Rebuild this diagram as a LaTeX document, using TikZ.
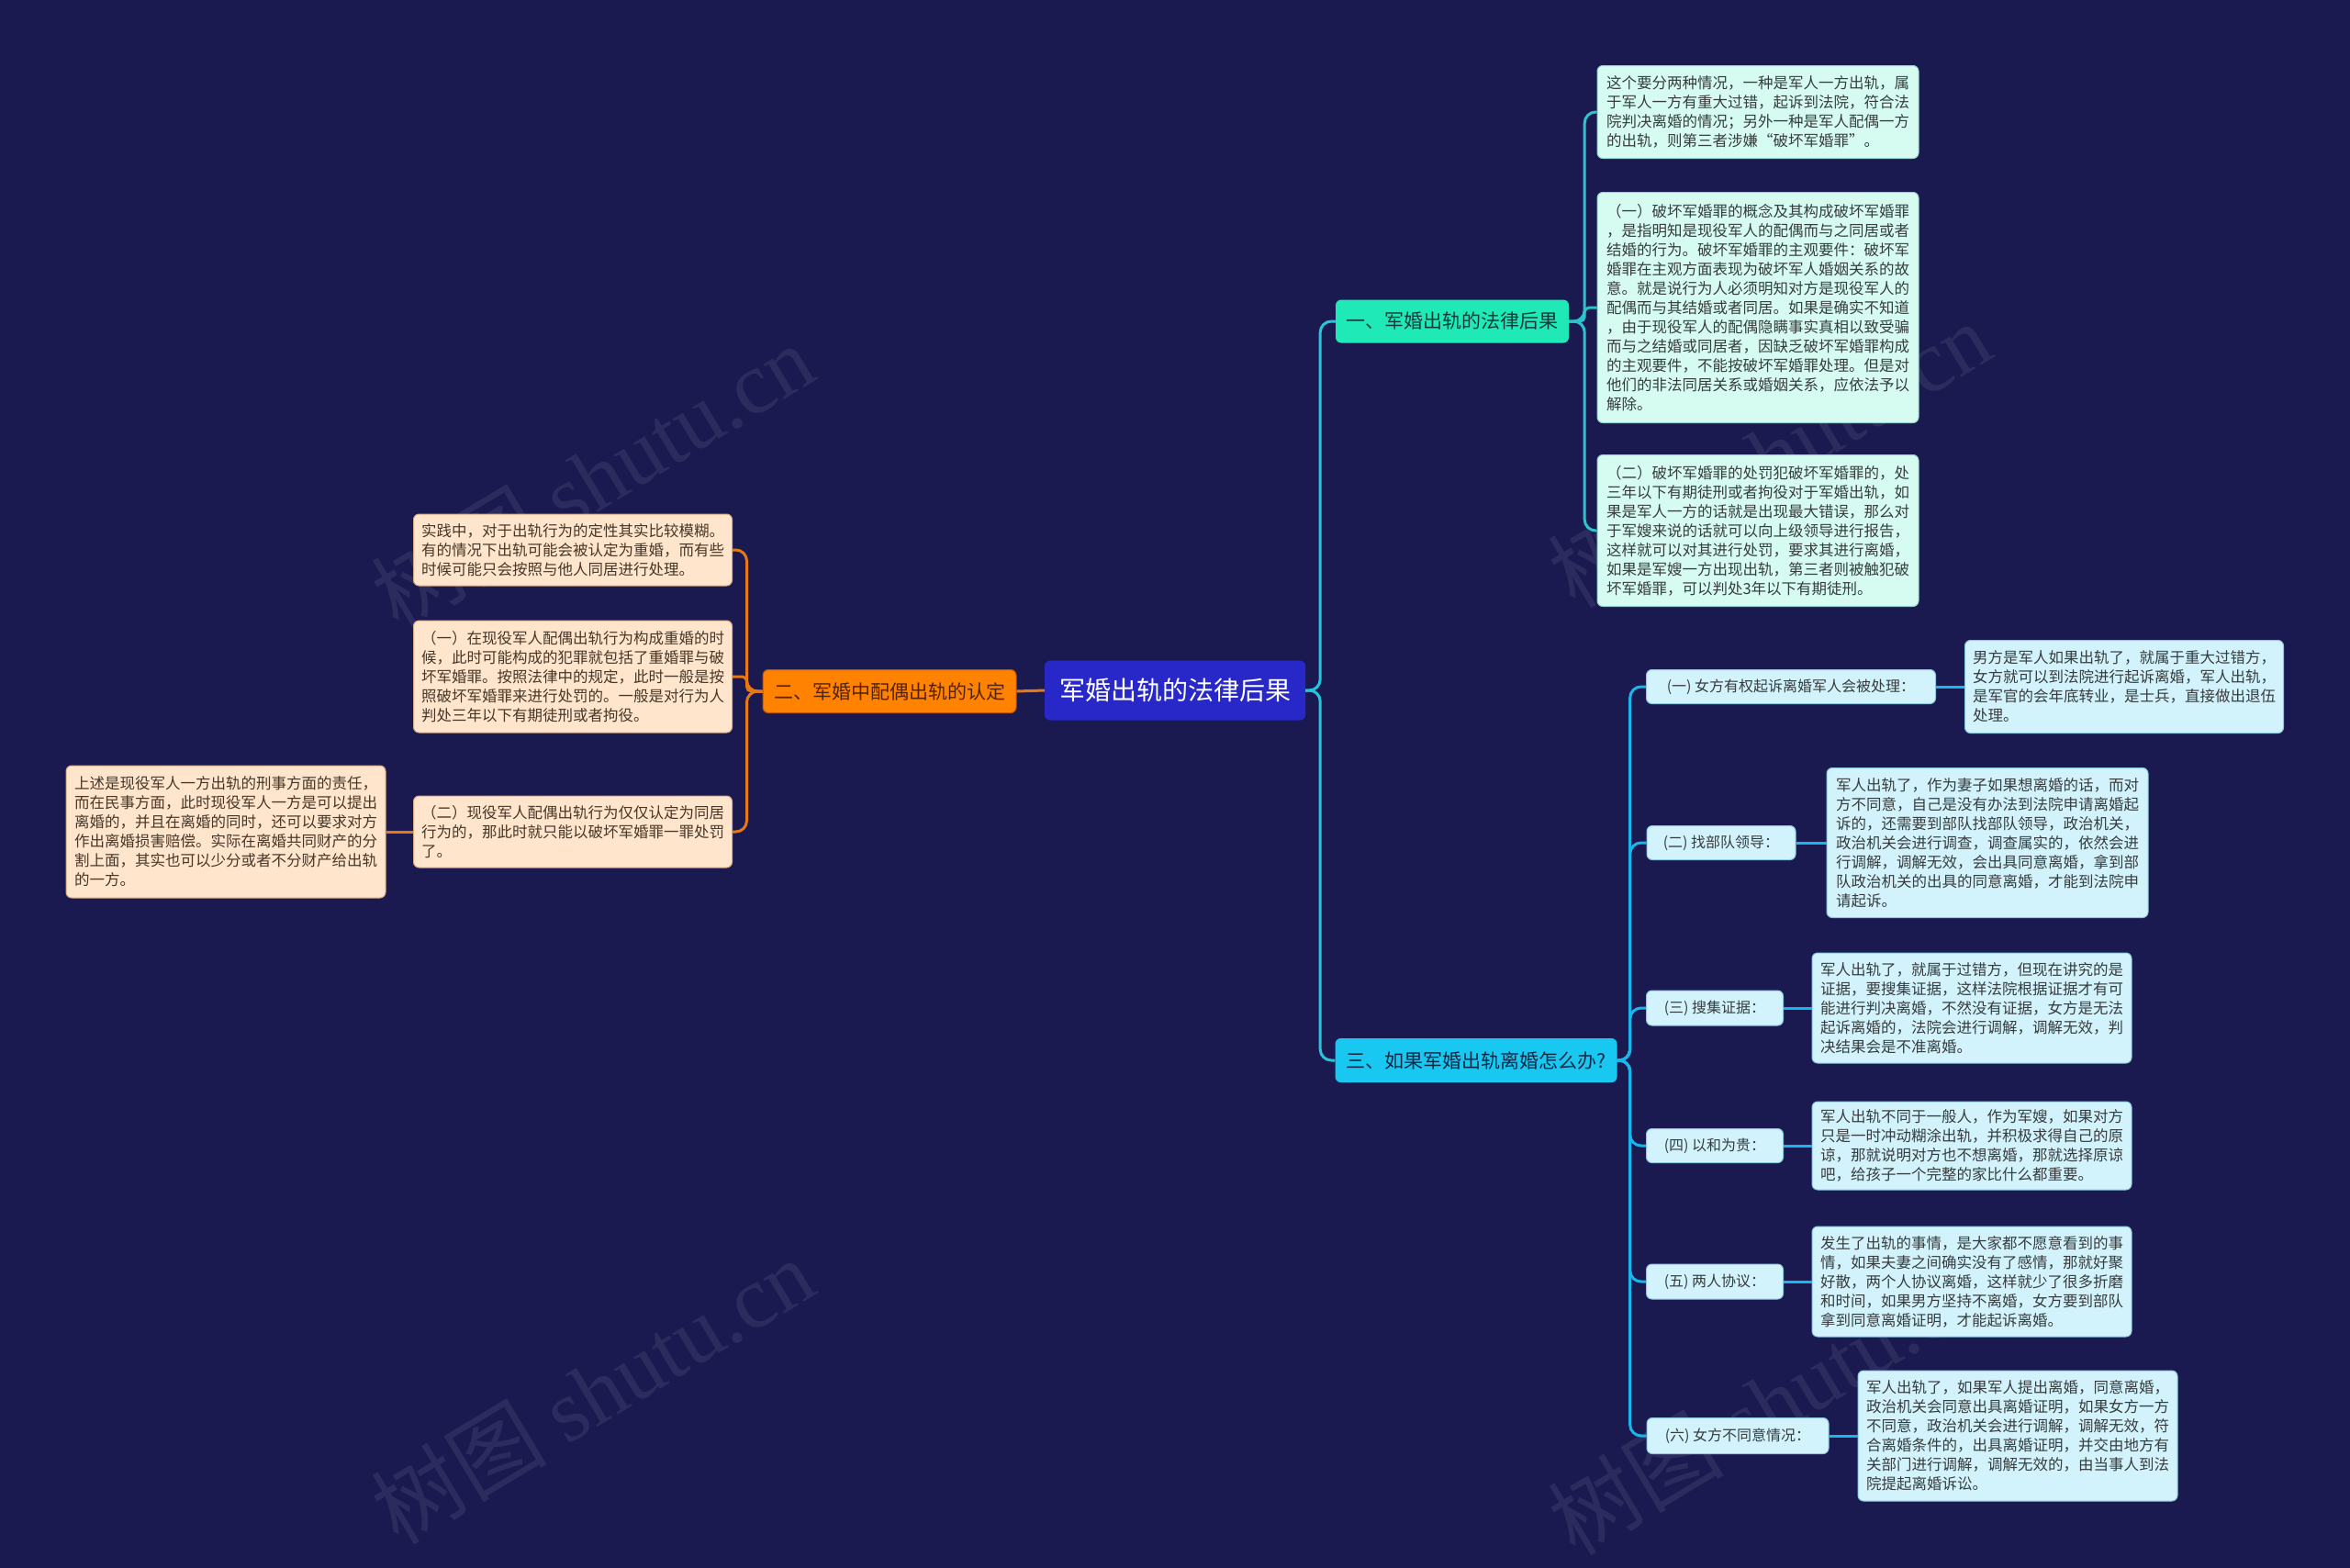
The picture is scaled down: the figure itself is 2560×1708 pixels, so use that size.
\documentclass[tikz,border=0pt]{standalone}
\usepackage{fontspec}
\newfontfamily\cjk{Noto Sans CJK SC}
\newfontfamily\wmserif{Liberation Serif}
\definecolor{bg}{RGB}{27,26,80}
\definecolor{rootc}{RGB}{40,40,200}
\definecolor{orangec}{RGB}{255,130,0}
\definecolor{orangeb}{RGB}{190,85,0}
\definecolor{orangetxt}{RGB}{85,35,5}
\definecolor{aquac}{RGB}{31,233,182}
\definecolor{aquatxt}{RGB}{18,60,58}
\definecolor{cyanc}{RGB}{24,200,240}
\definecolor{cyantxt}{RGB}{15,40,70}
\definecolor{mint}{RGB}{214,252,242}
\definecolor{mintb}{RGB}{150,210,200}
\definecolor{pale}{RGB}{210,243,252}
\definecolor{paleb}{RGB}{140,200,225}
\definecolor{peach}{RGB}{255,229,204}
\definecolor{peachb}{RGB}{215,170,130}
\definecolor{txtdark}{RGB}{55,60,62}
\definecolor{txtbrown}{RGB}{70,55,40}
\definecolor{lnroot}{RGB}{38,198,218}
\definecolor{lnteal}{RGB}{45,195,205}
\definecolor{lnblue}{RGB}{26,182,235}
\definecolor{lnorange}{RGB}{232,120,20}
\tikzset{
  base/.style={rounded corners=6, inner sep=0, align=left},
  leaftxt/.style={font=\cjk\fontsize{16.5}{21}\selectfont},
  leafT/.style={base, leaftxt, fill=mint, draw=mintb, line width=1, text=txtdark},
  leafR/.style={base, leaftxt, fill=pale, draw=paleb, line width=1, text=txtdark},
  leafL/.style={base, leaftxt, fill=peach, draw=peachb, line width=1, text=txtbrown},
  subbox/.style={base, font=\cjk\fontsize{16}{20}\selectfont, fill=pale, draw=paleb, line width=1, text=txtdark, align=center},
  branchbox/.style={base, font=\cjk\fontsize{21}{25}\selectfont, align=center},
  rootbox/.style={base, font=\cjk\fontsize{28}{32}\selectfont, fill=rootc, text=white, align=center},
  cn/.style={line width=3, rounded corners=12},
  wm/.style={text=white, opacity=0.08, rotate=31, font=\cjk\fontsize{96}{100}\selectfont}
}
\begin{document}
\begin{tikzpicture}[x=1pt,y=-1pt]
\fill[bg] (0,0) rectangle (2560,1708);
\useasboundingbox (0,0) rectangle (2560,1708);

% watermarks
\node[wm] (wm1) at (645,519) {树图 {\wmserif shutu.cn}};
\node[wm] (wm2) at (645,1515) {树图 {\wmserif shutu.cn}};
\node[wm] (wm3) at (1927,495) {树图 {\wmserif shutu.cn}};
\node[wm] (wm4) at (1927,1527) {树图 {\wmserif shutu.cn}};

% root and branches
\node[rootbox, minimum width=284, minimum height=65] (root) at (1280,752) {军婚出轨的法律后果};
\node[branchbox, fill=orangec, draw=orangeb, line width=1, text=orangetxt, minimum width=276, minimum height=47] (b2) at (969,753) {二、军婚中配偶出轨的认定};
\node[branchbox, fill=aquac, text=aquatxt, minimum width=254, minimum height=47] (b1) at (1582,350) {一、军婚出轨的法律后果};
\node[branchbox, fill=cyanc, text=cyantxt, minimum width=307, minimum height=48] (b3) at (1608,1155) {三、如果军婚出轨离婚怎么办?};

% top-right leaves
\node[leafT, minimum width=350, minimum height=101] (tr1) at (1915,122) {这个要分两种情况，一种是军人一方出轨，属\\于军人一方有重大过错，起诉到法院，符合法\\院判决离婚的情况；另外一种是军人配偶一方\\的出轨，则第三者涉嫌“破坏军婚罪”。};
\node[leafT, minimum width=350, minimum height=251] (tr2) at (1915,335) {（一）破坏军婚罪的概念及其构成破坏军婚罪\\，是指明知是现役军人的配偶而与之同居或者\\结婚的行为。破坏军婚罪的主观要件：破坏军\\婚罪在主观方面表现为破坏军人婚姻关系的故\\意。就是说行为人必须明知对方是现役军人的\\配偶而与其结婚或者同居。如果是确实不知道\\，由于现役军人的配偶隐瞒事实真相以致受骗\\而与之结婚或同居者，因缺乏破坏军婚罪构成\\的主观要件，不能按破坏军婚罪处理。但是对\\他们的非法同居关系或婚姻关系，应依法予以\\解除。};
\node[leafT, minimum width=350, minimum height=165] (tr3) at (1915,578) {（二）破坏军婚罪的处罚犯破坏军婚罪的，处\\三年以下有期徒刑或者拘役对于军婚出轨，如\\果是军人一方的话就是出现最大错误，那么对\\于军嫂来说的话就可以向上级领导进行报告，\\这样就可以对其进行处罚，要求其进行离婚，\\如果是军嫂一方出现出轨，第三者则被触犯破\\坏军婚罪，可以判处3年以下有期徒刑。};

% left leaves
\node[leafL, minimum width=347, minimum height=78] (l1) at (624,599) {实践中，对于出轨行为的定性其实比较模糊。\\有的情况下出轨可能会被认定为重婚，而有些\\时候可能只会按照与他人同居进行处理。};
\node[leafL, minimum width=347, minimum height=122] (l2) at (624,737) {（一）在现役军人配偶出轨行为构成重婚的时\\候，此时可能构成的犯罪就包括了重婚罪与破\\坏军婚罪。按照法律中的规定，此时一般是按\\照破坏军婚罪来进行处罚的。一般是对行为人\\判处三年以下有期徒刑或者拘役。};
\node[leafL, minimum width=347, minimum height=78] (l3) at (624,906) {（二）现役军人配偶出轨行为仅仅认定为同居\\行为的，那此时就只能以破坏军婚罪一罪处罚\\了。};
\node[leafL, minimum width=348, minimum height=144] (l4) at (246,906) {上述是现役军人一方出轨的刑事方面的责任，\\而在民事方面，此时现役军人一方是可以提出\\离婚的，并且在离婚的同时，还可以要求对方\\作出离婚损害赔偿。实际在离婚共同财产的分\\割上面，其实也可以少分或者不分财产给出轨\\的一方。};

% lower-right sub labels
\node[subbox, minimum width=315, minimum height=37] (s1) at (1951,748) {(一) 女方有权起诉离婚军人会被处理：};
\node[subbox, minimum width=162, minimum height=37] (s2) at (1875,918) {(二) 找部队领导：};
\node[subbox, minimum width=149, minimum height=38] (s3) at (1868,1098) {(三) 搜集证据：};
\node[subbox, minimum width=149, minimum height=37] (s4) at (1868,1248) {(四) 以和为贵：};
\node[subbox, minimum width=149, minimum height=38] (s5) at (1868,1396) {(五) 两人协议：};
\node[subbox, minimum width=198, minimum height=39] (s6) at (1893,1564) {(六) 女方不同意情况：};

% lower-right leaves
\node[leafR, minimum width=347, minimum height=101] (r1) at (2314,748) {男方是军人如果出轨了，就属于重大过错方，\\女方就可以到法院进行起诉离婚，军人出轨，\\是军官的会年底转业，是士兵，直接做出退伍\\处理。};
\node[leafR, minimum width=350, minimum height=163] (r2) at (2165,918) {军人出轨了，作为妻子如果想离婚的话，而对\\方不同意，自己是没有办法到法院申请离婚起\\诉的，还需要到部队找部队领导，政治机关，\\政治机关会进行调查，调查属实的，依然会进\\行调解，调解无效，会出具同意离婚，拿到部\\队政治机关的出具的同意离婚，才能到法院申\\请起诉。};
\node[leafR, minimum width=348, minimum height=120] (r3) at (2148,1098) {军人出轨了，就属于过错方，但现在讲究的是\\证据，要搜集证据，这样法院根据证据才有可\\能进行判决离婚，不然没有证据，女方是无法\\起诉离婚的，法院会进行调解，调解无效，判\\决结果会是不准离婚。};
\node[leafR, minimum width=348, minimum height=96] (r4) at (2148,1248) {军人出轨不同于一般人，作为军嫂，如果对方\\只是一时冲动糊涂出轨，并积极求得自己的原\\谅，那就说明对方也不想离婚，那就选择原谅\\吧，给孩子一个完整的家比什么都重要。};
\node[leafR, minimum width=348, minimum height=120] (r5) at (2148,1396) {发生了出轨的事情，是大家都不愿意看到的事\\情，如果夫妻之间确实没有了感情，那就好聚\\好散，两个人协议离婚，这样就少了很多折磨\\和时间，如果男方坚持不离婚，女方要到部队\\拿到同意离婚证明，才能起诉离婚。};
\node[leafR, minimum width=348, minimum height=142] (r6) at (2198,1564) {军人出轨了，如果军人提出离婚，同意离婚，\\政治机关会同意出具离婚证明，如果女方一方\\不同意，政治机关会进行调解，调解无效，符\\合离婚条件的，出具离婚证明，并交由地方有\\关部门进行调解，调解无效的，由当事人到法\\院提起离婚诉讼。};

% connectors
\draw[cn, lnroot] (root.east) -- ++(16,0) |- (b1.west);
\draw[cn, lnroot] (root.east) -- ++(16,0) |- (b3.west);
\draw[cn, lnorange] (root.west) -- (b2.east);
\draw[cn, lnorange] (b2.west) -- ++(-17,0) |- (l1.east);
\draw[cn, lnorange, rounded corners=5] (b2.west) -- ++(-17,0) |- (l2.east);
\draw[cn, lnorange] (b2.west) -- ++(-17,0) |- (l3.east);
\draw[cn, lnorange] (l3.west) -- (l4.east);
\draw[cn, lnteal] (b1.east) -- ++(17,0) |- (tr1.west);
\draw[cn, lnteal, rounded corners=5] (b1.east) -- ++(17,0) |- (tr2.west);
\draw[cn, lnteal] (b1.east) -- ++(17,0) |- (tr3.west);
\foreach \s in {s1,s2,s3,s4,s5,s6}{
  \draw[cn, lnblue] (b3.east) -- ++(14,0) |- (\s.west);
}
\draw[cn, lnblue] (s1.east) -- (r1.west);
\draw[cn, lnblue] (s2.east) -- (r2.west);
\draw[cn, lnblue] (s3.east) -- (r3.west);
\draw[cn, lnblue] (s4.east) -- (r4.west);
\draw[cn, lnblue] (s5.east) -- (r5.west);
\draw[cn, lnblue] (s6.east) -- (r6.west);
\end{tikzpicture}
\end{document}
